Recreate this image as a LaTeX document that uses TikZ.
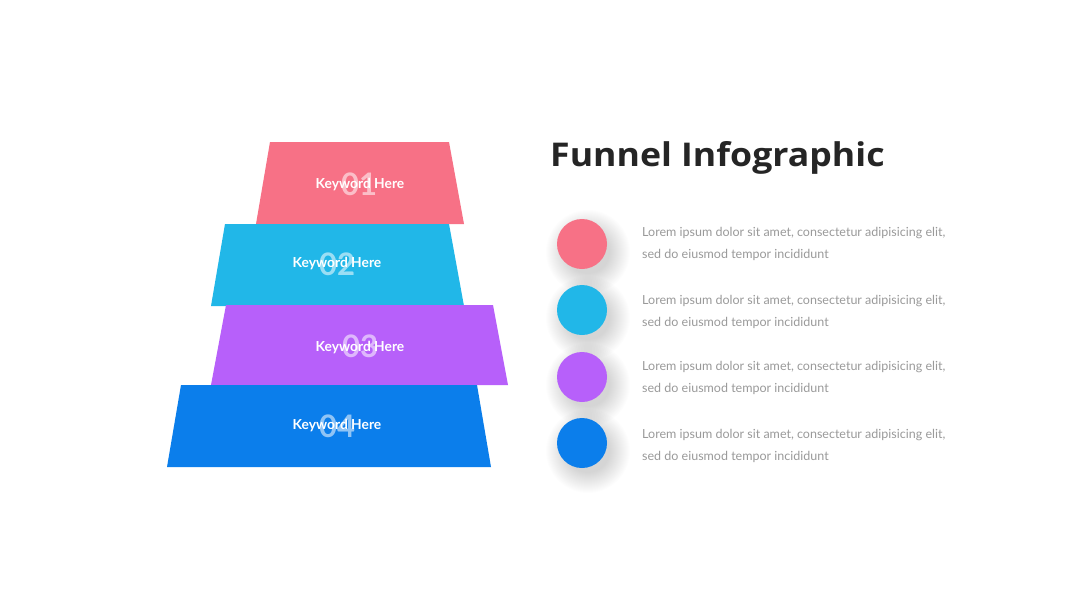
\documentclass[tikz,border=0pt]{standalone}
\usepackage{fontspec}
\setmainfont{Lato}
\newfontfamily\titlefont{Open Sans}
\usetikzlibrary{calc}
\definecolor{pinkc}{HTML}{F77186}
\definecolor{cyanc}{HTML}{21B7E8}
\definecolor{purplec}{HTML}{B760FA}
\definecolor{bluec}{HTML}{0B7EEB}
\definecolor{descgray}{HTML}{9A9A9A}
\definecolor{titlec}{HTML}{252525}
\tikzset{
  num/.style={anchor=base, text=white, text opacity=0.55, font=\bfseries\fontsize{31}{31}\selectfont, inner sep=0pt},
  kw/.style={anchor=base, text=white, font=\bfseries\fontsize{13.8}{13.8}\selectfont, inner sep=0pt},
  dot/.style={circle, minimum size=50pt, inner sep=0pt},
  desc/.style={anchor=west, align=left, text=descgray, inner sep=0pt,
    font=\fontsize{12.5}{22}\selectfont},
}
\newcommand{\softshadow}[1]{%
  \foreach \r in {22,23,...,42}{\fill[black, opacity=0.0065] ($(#1)+(6,8)$) circle[radius=\r];}}
\begin{document}
\begin{tikzpicture}[x=1pt,y=-1pt]
\useasboundingbox[fill=white] (0,0) rectangle (1080,608);
% funnel layers
\fill[pinkc] (270,142) -- (449,142) -- (464,224) -- (256,224) -- cycle;
\fill[cyanc] (225,224) -- (449,224) -- (464,306) -- (211,306) -- cycle;
\fill[purplec] (226,305) -- (493,305) -- (508,385) -- (211,385) -- cycle;
\fill[bluec] (181,385) -- (477,385) -- (491,467) -- (167,467) -- cycle;
% numbers
\node[num] (n1) at (359,195.5) {01};
\node[num] (n2) at (337,275) {02};
\node[num] (n3) at (360,357.5) {03};
\node[num] (n4) at (337,437.5) {04};
% keywords
\node[kw] (k1) at (360,188.3) {Keyword Here};
\node[kw] (k2) at (337,267) {Keyword Here};
\node[kw] (k3) at (360,351) {Keyword Here};
\node[kw] (k4) at (337,429) {Keyword Here};
% title
\node[anchor=base west, inner sep=0pt, text=titlec, font=\titlefont\bfseries\fontsize{32.7}{32.7}\selectfont] (title) at (550,166) {\scalebox{1.09}[1]{Funnel Infographic}};
% circles with soft shadows
\coordinate (p1) at (582,244);
\coordinate (p2) at (582,310);
\coordinate (p3) at (582,377);
\coordinate (p4) at (582,443);
\softshadow{p1}\softshadow{p2}\softshadow{p3}\softshadow{p4}
\node[dot, fill=pinkc] (c1) at (p1) {};
\node[dot, fill=cyanc] (c2) at (p2) {};
\node[dot, fill=purplec] (c3) at (p3) {};
\node[dot, fill=bluec] (c4) at (p4) {};
% descriptions
\node[desc] (d1) at (642,244) {Lorem ipsum dolor sit amet, consectetur adipisicing elit,\\sed do eiusmod tempor incididunt};
\node[desc] (d2) at (642,312) {Lorem ipsum dolor sit amet, consectetur adipisicing elit,\\sed do eiusmod tempor incididunt};
\node[desc] (d3) at (642,378) {Lorem ipsum dolor sit amet, consectetur adipisicing elit,\\sed do eiusmod tempor incididunt};
\node[desc] (d4) at (642,446) {Lorem ipsum dolor sit amet, consectetur adipisicing elit,\\sed do eiusmod tempor incididunt};
\end{tikzpicture}
\end{document}
